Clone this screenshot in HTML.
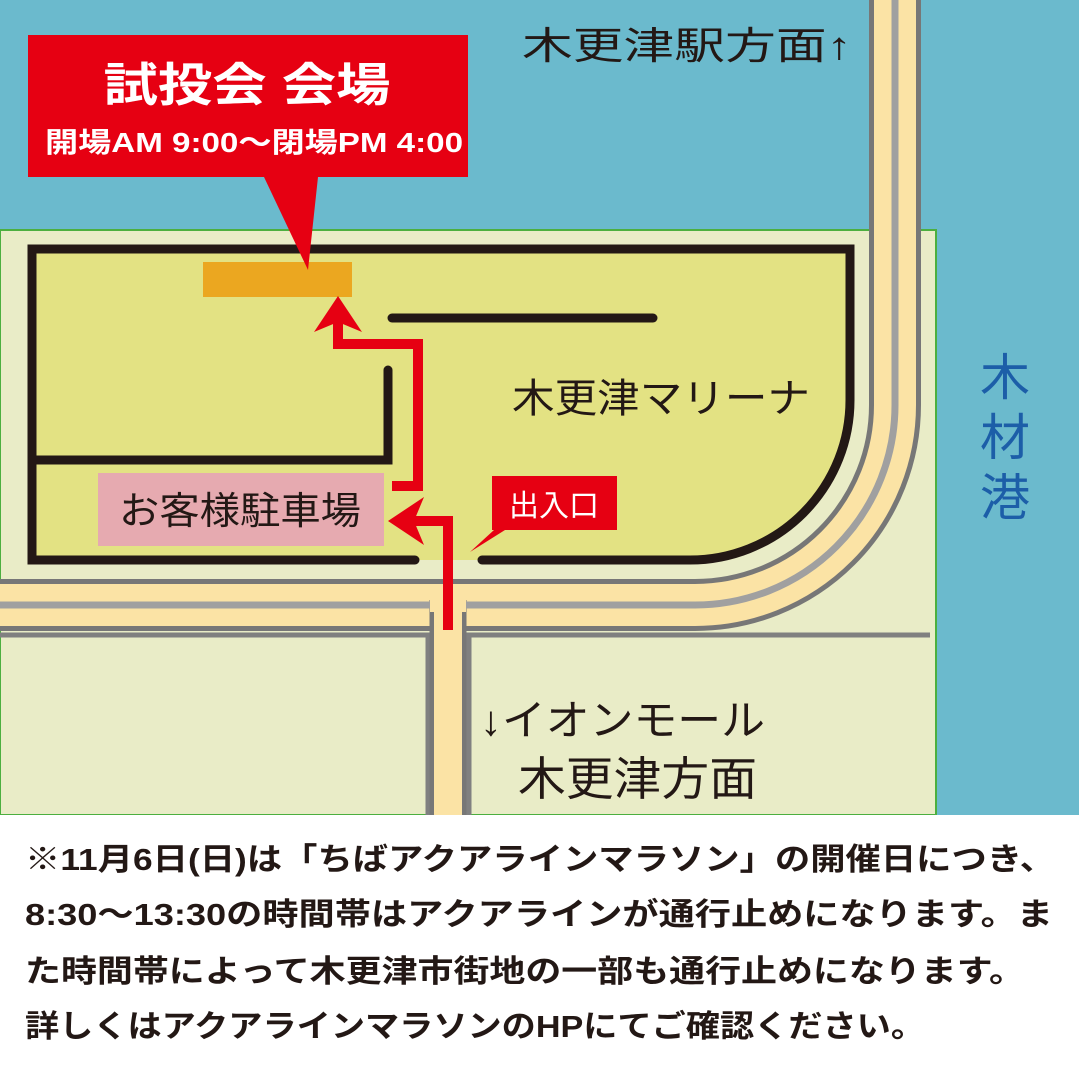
<!DOCTYPE html>
<html><head><meta charset="utf-8"><style>
html,body{margin:0;padding:0;background:#fff;}
svg{display:block;font-family:"Liberation Sans","Noto Sans CJK JP",sans-serif;}
</style></head><body>
<svg width="1079" height="1080" viewBox="0 0 1079 1080" xmlns="http://www.w3.org/2000/svg">
<rect x="0" y="0" width="1079" height="815" fill="#6bbacd"/>
<rect x="0" y="230" width="936" height="585" fill="#e9ecc7" stroke="#4caf3f" stroke-width="2"/>
<path d="M0 635 H428 V815" fill="none" stroke="#808080" stroke-width="5"/>
<path d="M469 815 V635 H930" fill="none" stroke="#808080" stroke-width="5"/>
<path d="M32 249 H846 V400 A160 160 0 0 1 686 560 H32 Z" fill="#e3e283"/>
<g fill="none">
<path d="M0 605 H695 A200 200 0 0 0 895 405 V0" stroke="#777" stroke-width="52"/>
<path d="M0 605 H695 A200 200 0 0 0 895 405 V0" stroke="#fbe3a5" stroke-width="42"/>
<path d="M448 600 V815" stroke="#777" stroke-width="37"/>
<path d="M448 600 V815" stroke="#fbe3a5" stroke-width="28"/>
<path d="M0 605 H695 A200 200 0 0 0 895 405 V0" stroke="#a0a0a0" stroke-width="7"/>
</g>
<rect x="430" y="600" width="36" height="12" fill="#fbe3a5"/>
<g fill="none" stroke="#231815" stroke-width="9" stroke-linecap="round">
<path d="M415 560 H32 V249 H850 V400 A160 160 0 0 1 690 560 H482"/>
<path d="M32 460 H388 V370"/>
<path d="M392 318 H653"/>
</g>
<rect x="203" y="262" width="149" height="35" fill="#eba720"/>
<rect x="98" y="473" width="286" height="73" fill="#e6aab0"/>
<text x="240" y="524" font-size="38" text-anchor="middle" fill="#231815" textLength="242" lengthAdjust="spacingAndGlyphs">お客様駐車場</text>
<g fill="none" stroke="#e60012" stroke-width="10">
<path d="M448 630 V521 H410"/>
<path d="M392 486 H418 V344 H338 V318"/>
</g>
<polygon points="388,521 424,497 414,521 424,545" fill="#e60012"/>
<polygon points="338,296 314,332 338,322 362,332" fill="#e60012"/>
<polygon points="492,476 617,476 617,530 505,530 470,552 494,530 492,530" fill="#e60012"/>
<text x="554" y="516" font-size="30" text-anchor="middle" fill="#fff">出入口</text>
<polygon points="28,35 468,35 468,177 318,177 308,270 264,177 28,177" fill="#e60012"/>
<text x="247" y="101" font-size="46" text-anchor="middle" fill="#fff" font-weight="bold" textLength="287" lengthAdjust="spacingAndGlyphs">試投会 会場</text>
<text x="254" y="152" font-size="28" text-anchor="middle" fill="#fff" font-weight="bold" textLength="418" lengthAdjust="spacingAndGlyphs">開場AM 9:00～閉場PM 4:00</text>
<text x="522" y="59" font-size="38" fill="#231815" textLength="330" lengthAdjust="spacingAndGlyphs">木更津駅方面↑</text>
<text x="512" y="412" font-size="40" fill="#231815" textLength="298" lengthAdjust="spacingAndGlyphs">木更津マリーナ</text>
<g font-size="50" fill="#1c5ea8" text-anchor="middle">
<text x="1005" y="395">木</text><text x="1005" y="455">材</text><text x="1005" y="515">港</text>
</g>
<text x="480" y="735" font-size="42" fill="#231815" textLength="285" lengthAdjust="spacingAndGlyphs">↓イオンモール</text>
<text x="518" y="795" font-size="46" fill="#231815" textLength="239" lengthAdjust="spacingAndGlyphs">木更津方面</text>
<rect x="0" y="815" width="1079" height="265" fill="#fff"/>
<g font-size="31" fill="#231815" font-weight="600">
<text x="25" y="870" textLength="1030" lengthAdjust="spacingAndGlyphs">※11月6日(日)は「ちばアクアラインマラソン」の開催日につき、</text>
<text x="25" y="925" textLength="1028" lengthAdjust="spacingAndGlyphs">8:30～13:30の時間帯はアクアラインが通行止めになります。ま</text>
<text x="25" y="982" textLength="1000" lengthAdjust="spacingAndGlyphs">た時間帯によって木更津市街地の一部も通行止めになります。</text>
<text x="25" y="1037" textLength="900" lengthAdjust="spacingAndGlyphs">詳しくはアクアラインマラソンのHPにてご確認ください。</text>
</g>
</svg>
</body></html>
